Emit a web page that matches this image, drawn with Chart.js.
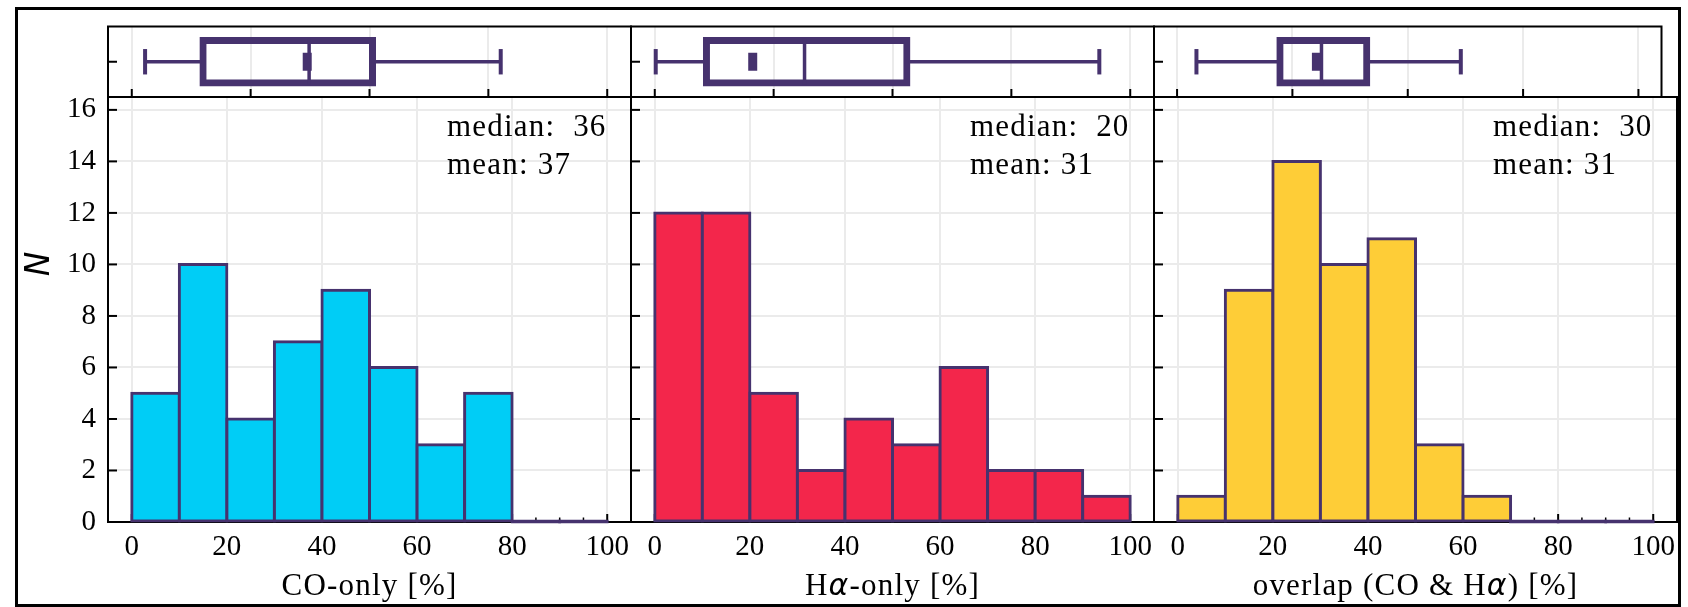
<!DOCTYPE html>
<html>
<head>
<meta charset="utf-8">
<script src="https://cdn.jsdelivr.net/npm/chart.js@4/dist/chart.umd.min.js"></script>
<style>
  html, body { margin: 0; padding: 0; background: #fff; }
  #fig { position: relative; width: 1688px; height: 607px; overflow: hidden; background: #fff; }
  #fig canvas { position: absolute; left: 0; top: 0; }
  #frame { position: absolute; left: 15px; top: 7px; width: 1660px; height: 594px;
           border: 3px solid #000; pointer-events: none; z-index: 10; }
</style>
</head>
<body>
<div id="fig"><div id="frame"></div></div>
<script>
// ---- data: histogram counts per 10 % bin, box-plot statistics ----
const BIN_CENTERS = [5, 15, 25, 35, 45, 55, 65, 75, 85, 95];
const CO_COUNTS = [5, 10, 4, 7, 9, 6, 3, 5, 0, 0];
const HA_COUNTS = [12, 12, 5, 2, 4, 3, 6, 2, 2, 1];
const OV_COUNTS = [1, 9, 14, 10, 11, 3, 1, 0, 0, 0];

const WHISKERS = [[2.8, 77.6], [0.2, 93.5], [4.2, 61.5]];
const QUARTILES = [[14.6, 51.0], [10.5, 53.4], [21.9, 41.5]];
const MEDIANS = [36.9, 20.6, 30.2];
const MEANS = [37.3, 31.5, 31.3];

const X_TICKS = [0, 20, 40, 60, 80, 100];
const X_MINOR_TICKS = [5, 10, 15, 25, 30, 35, 45, 50, 55, 65, 70, 75, 85, 90, 95];
const Y_TICKS = [0, 2, 4, 6, 8, 10, 12, 14, 16];
const BOX_TICKS = [0, 25, 50, 75, 100];

const SERIF = '"Liberation Serif", "Times New Roman", serif';
const TITLE_FONT = '31px ' + SERIF;
const GREEK = 'italic 30px "DejaVu Sans"';
const X_TITLES = [
  [['CO-only [%]', TITLE_FONT]],
  [['H', TITLE_FONT], ['\u03B1', GREEK], ['-only [%]', TITLE_FONT]],
  [['overlap (CO & H', TITLE_FONT], ['\u03B1', GREEK], [') [%]', TITLE_FONT]]
];

// ---- layout ----
const W = 1688, H = 607;
const PANEL_LEFT = [108, 631, 1154];
const PANEL_W = 523;
const BOX_TOP = 12, ROW_SPLIT = 97, HIST_BOTTOM = 522;
const Y_AXIS_W = 90, X_AXIS_H = 70;
const EDGE = '#46326e';
const GRID = '#ebebeb';
const FILLS = ['#00cdf6', '#f3264b', '#fecd37'];
const COUNTS = [CO_COUNTS, HA_COUNTS, OV_COUNTS];
const TEXT_SPACING = '1.2px';

function makeCanvas() {
  const c = document.createElement('canvas');
  c.width = W; c.height = H;
  document.getElementById('fig').insertBefore(c, document.getElementById('frame'));
  return c;
}

function seg(ctx, x1, y1, x2, y2) {
  ctx.beginPath(); ctx.moveTo(x1, y1); ctx.lineTo(x2, y2); ctx.stroke();
}

function drawRich(ctx, parts, x, y) {
  ctx.save();
  ctx.letterSpacing = TEXT_SPACING;
  ctx.fillStyle = '#000';
  ctx.textAlign = 'left';
  ctx.textBaseline = 'alphabetic';
  const widths = parts.map(([t, f]) => { ctx.font = f; return ctx.measureText(t).width; });
  let cx = x - widths.reduce((a, b) => a + b, 0) / 2;
  parts.forEach(([t, f], k) => { ctx.font = f; ctx.fillText(t, cx, y); cx += widths[k]; });
  ctx.restore();
}

const frameAndTicks = (kind) => ({
  id: 'frameAndTicks',
  beforeDatasetsDraw(chart) {
    const {ctx, chartArea: a, scales} = chart;
    ctx.save();
    ctx.strokeStyle = '#000';
    ctx.lineWidth = 2;
    ctx.strokeRect(a.left, a.top, a.right - a.left, a.bottom - a.top);
    if (kind === 'hist') {
      Y_TICKS.forEach(v => { const y = scales.y.getPixelForValue(v); seg(ctx, a.left, y, a.left + 9, y); });
      X_TICKS.forEach(v => { const x = scales.x.getPixelForValue(v); seg(ctx, x, a.bottom, x, a.bottom - 8); });
      ctx.lineWidth = 1.5;
      X_MINOR_TICKS.forEach(v => { const x = scales.x.getPixelForValue(v); seg(ctx, x, a.bottom, x, a.bottom - 4.5); });
    } else {
      const yc = scales.y.getPixelForValue(0);
      seg(ctx, a.left, yc, a.left + 9, yc);
      BOX_TICKS.forEach(v => { const x = scales.x.getPixelForValue(v); seg(ctx, x, a.bottom, x, a.bottom - 8); });
    }
    ctx.restore();
  }
});

const histText = (i) => ({
  id: 'histText',
  afterDraw(chart) {
    const {ctx, chartArea: a} = chart;
    ctx.save();
    ctx.letterSpacing = TEXT_SPACING;
    ctx.fillStyle = '#000';
    ctx.font = '31px ' + SERIF;
    ctx.textAlign = 'left';
    ctx.textBaseline = 'alphabetic';
    ctx.fillText('median:  ' + Math.floor(MEDIANS[i]), a.left + 339, a.top + 39);
    ctx.fillText('mean: ' + Math.floor(MEANS[i]), a.left + 339, a.top + 77);
    ctx.restore();
    drawRich(ctx, X_TITLES[i], (a.left + a.right) / 2, 595);
    if (i === 0) {
      ctx.save();
      ctx.translate(40, 264);
      ctx.rotate(-Math.PI / 2);
      ctx.font = 'italic 33px "DejaVu Sans"';
      ctx.fillStyle = '#000';
      ctx.textAlign = 'center';
      ctx.textBaseline = 'middle';
      ctx.fillText('N', 0, 0);
      ctx.restore();
    }
  }
});

const tickFont = {family: SERIF, size: 29};

for (let i = 0; i < 3; i++) {
  const left = PANEL_LEFT[i];
  const right = W - (left + PANEL_W);

  // histogram panel
  new Chart(makeCanvas(), {
    type: 'bar',
    data: {
      datasets: [{
        data: BIN_CENTERS.map((c, k) => ({x: c, y: COUNTS[i][k]})),
        backgroundColor: (c) => (c.parsed && c.parsed.y === 0 ? EDGE : FILLS[i]),
        borderColor: EDGE,
        borderWidth: 3,
        inflateAmount: 1.5,
        borderSkipped: false,
        minBarLength: 0.01,
        barPercentage: 1,
        categoryPercentage: 1,
        clip: false
      }]
    },
    options: {
      responsive: false, animation: false, devicePixelRatio: 1,
      layout: {padding: {left: left - Y_AXIS_W, right: right, top: ROW_SPLIT, bottom: H - HIST_BOTTOM - X_AXIS_H}},
      plugins: {legend: {display: false}, tooltip: {enabled: false}},
      events: [],
      scales: {
        x: {
          type: 'linear', min: -5, max: 105, offset: false,
          afterBuildTicks: (s) => { s.ticks = X_TICKS.map(v => ({value: v})); },
          afterFit: (s) => { s.height = X_AXIS_H; },
          grid: {color: GRID, lineWidth: 2, drawTicks: false, offset: false},
          border: {display: false},
          ticks: {font: tickFont, color: '#000', padding: 8, maxRotation: 0, autoSkip: false}
        },
        y: {
          type: 'linear', min: 0, max: 16.5,
          afterBuildTicks: (s) => { s.ticks = Y_TICKS.map(v => ({value: v})); },
          afterFit: (s) => { s.width = Y_AXIS_W; },
          grid: {color: GRID, lineWidth: 2, drawTicks: false},
          border: {display: false},
          ticks: {display: i === 0, font: tickFont, color: '#000', padding: 12}
        }
      }
    },
    plugins: [frameAndTicks('hist'), histText(i)]
  });

  // box-plot strip above the histogram
  const row = 'dist';
  const pointSet = (xs, radius, width) => ({
    type: 'line', data: xs.map(x => ({x: x, y: row})), showLine: false,
    pointStyle: 'line', pointRotation: 90, pointRadius: radius, pointHoverRadius: radius,
    pointBorderWidth: width, pointBorderColor: EDGE, pointBackgroundColor: EDGE, clip: false
  });
  const whisker = (a, b) => ({
    type: 'line', data: [{x: a, y: row}, {x: b, y: row}],
    borderColor: EDGE, borderWidth: 3.5, pointRadius: 0, pointHoverRadius: 0, fill: false, clip: false
  });
  new Chart(makeCanvas(), {
    type: 'bar',
    data: {
      labels: [row],
      datasets: [
        pointSet([MEDIANS[i]], 9, 9),
        pointSet([MEANS[i]], 23, 3.5),
        pointSet(WHISKERS[i], 12.7, 4),
        whisker(WHISKERS[i][0], QUARTILES[i][0]),
        whisker(QUARTILES[i][1], WHISKERS[i][1]),
        {
          type: 'bar', data: [QUARTILES[i]],
          backgroundColor: 'rgba(0,0,0,0)', borderColor: EDGE, borderWidth: 3.5,
          inflateAmount: 1.75, borderSkipped: false, barThickness: 46, clip: false
        }
      ]
    },
    options: {
      indexAxis: 'y',
      responsive: false, animation: false, devicePixelRatio: 1,
      layout: {padding: {left: left, right: right, top: BOX_TOP, bottom: H - ROW_SPLIT}},
      plugins: {legend: {display: false}, tooltip: {enabled: false}},
      events: [],
      scales: {
        x: {
          type: 'linear', min: -5, max: 105, offset: false,
          afterBuildTicks: (s) => { s.ticks = BOX_TICKS.map(v => ({value: v})); },
          afterFit: (s) => { s.height = 0; },
          grid: {color: GRID, lineWidth: 2, drawTicks: false, offset: false},
          border: {display: false},
          ticks: {display: false}
        },
        y: {
          type: 'category', offset: true,
          afterFit: (s) => { s.width = 0; },
          grid: {display: false, drawTicks: false},
          border: {display: false},
          ticks: {display: false}
        }
      }
    },
    plugins: [frameAndTicks('box')]
  });
}
</script>
</body>
</html>
